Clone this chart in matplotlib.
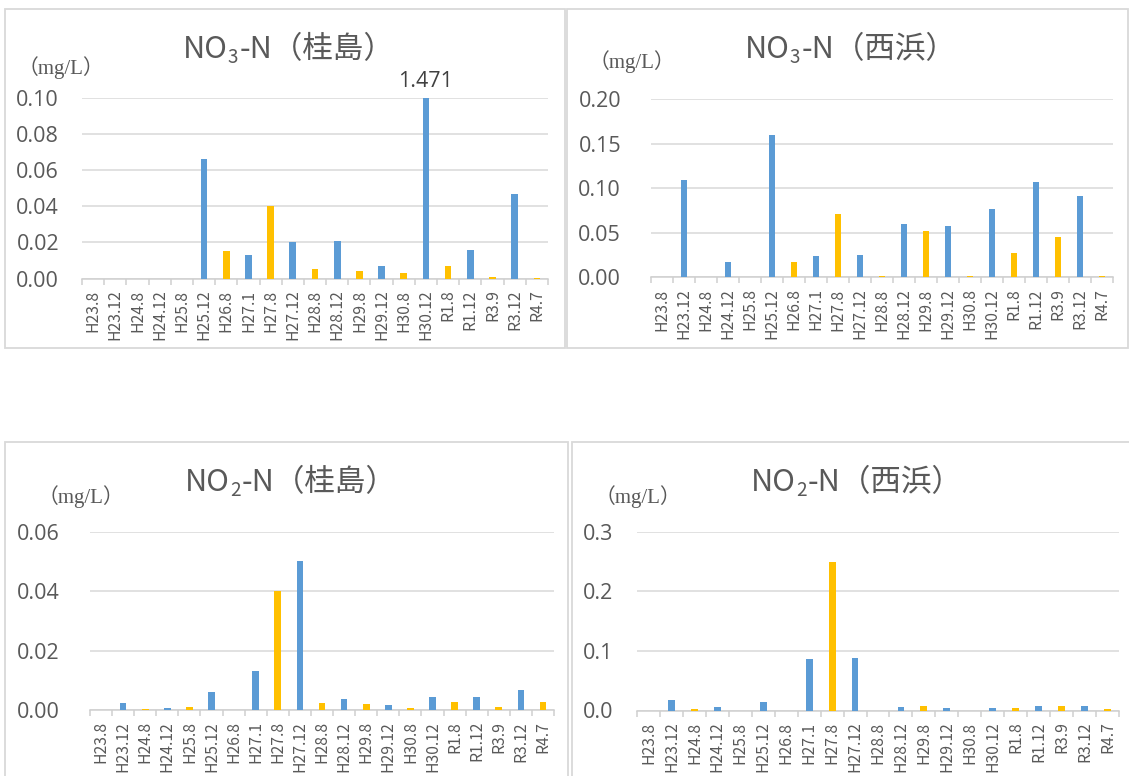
import matplotlib
matplotlib.use('Agg')
import matplotlib.pyplot as plt
from matplotlib.patches import Rectangle
from matplotlib.ticker import FormatStrFormatter
import numpy as np

# ---------------- data ----------------
categories = ['H23.8', 'H23.12', 'H24.8', 'H24.12', 'H25.8', 'H25.12', 'H26.8',
              'H27.1', 'H27.8', 'H27.12', 'H28.8', 'H28.12', 'H29.8', 'H29.12',
              'H30.8', 'H30.12', 'R1.8', 'R1.12', 'R3.9', 'R3.12', 'R4.7']

no3_katsurashima = [0, 0, 0, 0, 0, 0.066, 0.015, 0.013, 0.040, 0.020, 0.005,
                    0.021, 0.004, 0.007, 0.003, 1.471, 0.007, 0.016, 0.001,
                    0.047, 0.0005]
no3_nishihama = [0, 0.109, 0, 0.017, 0, 0.160, 0.017, 0.024, 0.071, 0.025,
                 0.002, 0.060, 0.052, 0.057, 0.002, 0.077, 0.027, 0.107,
                 0.045, 0.091, 0.002]
no2_katsurashima = [0, 0.0025, 0.0004, 0.0008, 0.001, 0.006, 0, 0.013, 0.040,
                    0.050, 0.0025, 0.0038, 0.002, 0.0017, 0.0008, 0.0044,
                    0.0028, 0.0044, 0.0011, 0.0066, 0.0026]
no2_nishihama = [0, 0.018, 0.002, 0.0067, 0, 0.015, 0, 0.087, 0.250, 0.088,
                 0, 0.006, 0.008, 0.004, 0, 0.005, 0.005, 0.007, 0.007,
                 0.008, 0.002]

unit_label = '（mg/L）'
outlier_label = '1.471'

# ---------------- style ----------------
BLUE = '#5B9BD5'
GOLD = '#FFC000'
TXT = '#595959'
GRID = '#D9D9D9'
NUM_FONT = ['Open Sans', 'Noto Sans CJK JP', 'DejaVu Sans']

W, H = 1129, 776
plt.rcParams['font.family'] = ['Noto Sans CJK JP', 'DejaVu Sans']
fig = plt.figure(figsize=(W / 100, H / 100), dpi=100)
renderer = fig.canvas.get_renderer()


def fx(px):
    return px / W


def fy(py):
    return 1 - py / H


def border(x0, y0, x1, y1):
    fig.add_artist(Rectangle((fx(x0), fy(y1)), fx(x1 - x0), (y1 - y0) / H,
                             transform=fig.transFigure, fill=False,
                             ec=GRID, lw=1.3, clip_on=False))


def title(x_px, base_px, main, sub, rest, size=22):
    t1 = fig.text(fx(x_px), fy(base_px), main, fontsize=size, va='baseline',
                  ha='left', color=TXT)
    bb = t1.get_window_extent(renderer)
    t2 = fig.text(bb.x1 / W, fy(base_px + 5), sub, fontsize=size * 0.62,
                  va='baseline', ha='left', color=TXT)
    bb2 = t2.get_window_extent(renderer)
    fig.text(bb2.x1 / W + 1 / W, fy(base_px), rest, fontsize=size,
             va='baseline', ha='left', color=TXT)


def panel(values, box, ymax, step, fmt, ypad_px):
    x0, y0, x1, y1 = box
    ax = fig.add_axes([fx(x0), fy(y1), fx(x1 - x0), (y1 - y0) / H])
    n = len(categories)
    x = np.arange(n)
    colors = [GOLD if i % 2 == 0 else BLUE for i in range(n)]
    ax.bar(x, values, width=0.3, color=colors, zorder=3)
    ax.set_xlim(-0.5, n - 0.5)
    ax.set_ylim(0, ymax)
    ax.set_yticks(np.arange(0, ymax + step / 2, step))
    ax.yaxis.set_major_formatter(FormatStrFormatter(fmt))
    ax.grid(axis='y', color=GRID, lw=1.1, zorder=0)
    ax.set_axisbelow(True)
    for s in ['top', 'right', 'left']:
        ax.spines[s].set_visible(False)
    ax.spines['bottom'].set_color('#CFCFCF')
    ax.spines['bottom'].set_linewidth(1.1)
    ax.set_xticks(x)
    ax.set_xticklabels(categories, rotation=90, fontsize=11.3, color=TXT)
    ax.tick_params(axis='x', which='major', length=0, pad=8)
    ax.set_xticks(np.arange(-0.5, n, 1), minor=True)
    ax.tick_params(axis='x', which='minor', length=4.5, width=1.1,
                   color='#CFCFCF')
    ax.tick_params(axis='y', length=0, pad=ypad_px * 0.72, labelsize=15.5,
                   labelcolor=TXT)
    for lab in ax.get_yticklabels():
        lab.set_family(NUM_FONT)
    ax.patch.set_alpha(0)
    return ax


# ---------------- panel frames ----------------
border(5, 9, 565, 348)
border(567, 9, 1128, 348)
border(5, 442, 568, 790)
border(572, 442, 1140, 790)

# ---------------- panels ----------------
ax1 = panel(no3_katsurashima, (82, 97.7, 548, 278.5), 0.10, 0.02, '%.2f', 23)
ax2 = panel(no3_nishihama, (651, 99, 1113, 277.3), 0.20, 0.05, '%.2f', 30)
ax3 = panel(no2_katsurashima, (90, 531.7, 554, 710), 0.06, 0.02, '%.2f', 30)
ax4 = panel(no2_nishihama, (637, 531.7, 1119, 710.5), 0.3, 0.1, '%.1f', 24)

# outlier label for the clipped bar
idx = categories.index('H30.12')
ax1.annotate(outlier_label, xy=(idx, 0.10), xytext=(0, 4),
             textcoords='offset points', ha='center', va='bottom',
             fontsize=15.5, family=NUM_FONT, color='#404040',
             annotation_clip=False)

# ---------------- titles ----------------
title(183, 58, 'NO', '3', '-N（桂島）')
title(745, 58, 'NO', '3', '-N（西浜）')
title(185, 491, 'NO', '2', '-N（桂島）')
title(751, 491, 'NO', '2', '-N（西浜）')

# ---------------- unit labels ----------------
unit_fam = ['Liberation Serif', 'Noto Sans CJK JP']
for (ux, uy) in [(18, 68), (589, 62), (38, 497), (595, 497)]:
    fig.text(fx(ux), fy(uy), unit_label, fontsize=15, family=unit_fam,
             ha='left', va='center', color=TXT)

fig.savefig('out.png', dpi=100)
